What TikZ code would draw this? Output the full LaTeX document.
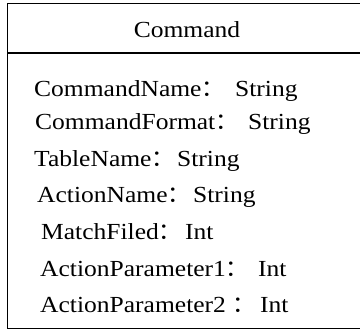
\documentclass[tikz,border=0pt]{standalone}
\usepackage{fontspec}
\setmainfont[FakeStretch=1.11]{Liberation Serif}
\newfontfamily\cjk{Noto Sans CJK SC}
\begin{document}
\begin{tikzpicture}[x=1pt,y=-1pt,
  classtext/.style={inner sep=0pt,anchor=base west,font=\fontsize{23}{28}\selectfont},
  classtitle/.style={inner sep=0pt,anchor=base,font=\fontsize{23}{28}\selectfont},
  border/.style={draw=black,line width=1.8pt}]
  \useasboundingbox (0,0) rectangle (360,330);
  \begin{scope}
    \clip (0,0) rectangle (360,330);
    % class box and the line under the class name
    \draw[border] (7.5,3.5) rectangle (368,328.5);
    \draw[border] (7.5,53) -- (368,53);
  \end{scope}
  % class name
  \node[classtitle] (title) at (187,37) {Command};
  % attributes: name with colon, then type
  \node[classtext] (n1) at (34,96)  {CommandName{\cjk ：}};
  \node[classtext] (t1) at (235,96) {String};
  \node[classtext] (n2) at (35,129.5) {CommandFormat{\cjk ：}};
  \node[classtext] (t2) at (248,129.5) {String};
  \node[classtext] (n3) at (34,166) {TableName{\cjk ：}};
  \node[classtext] (t3) at (177,166) {String};
  \node[classtext] (n4) at (37,202) {ActionName{\cjk ：}};
  \node[classtext] (t4) at (193,202) {String};
  \node[classtext] (n5) at (41,239) {MatchFiled{\cjk ：}};
  \node[classtext] (t5) at (185,239) {Int};
  \node[classtext] (n6) at (40,276) {ActionParameter1{\cjk ：}};
  \node[classtext] (t6) at (258,276) {Int};
  \node[classtext] (n7) at (40,312) {ActionParameter2 {\cjk ：}};
  \node[classtext] (t7) at (260,312) {Int};
\end{tikzpicture}
\end{document}
